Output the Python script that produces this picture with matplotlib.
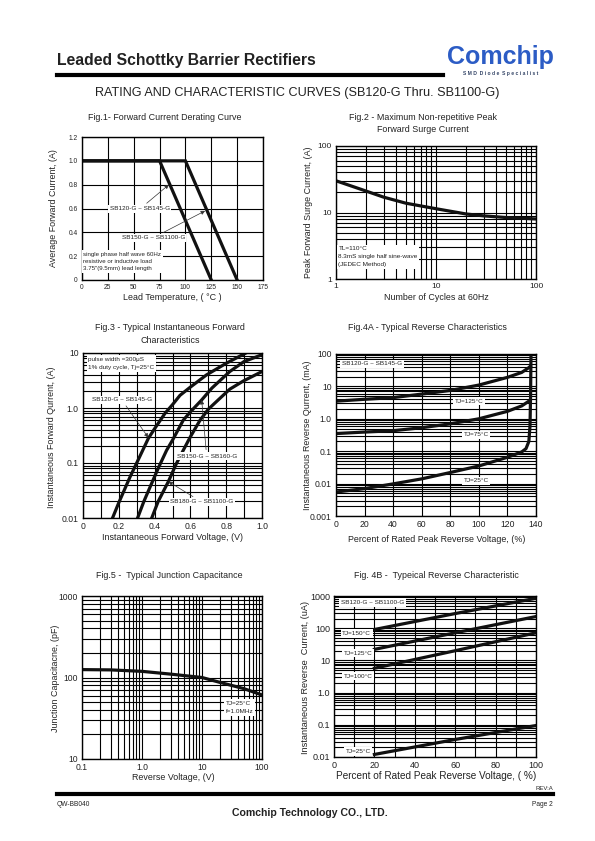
import numpy as np
import matplotlib
matplotlib.use('Agg')
import matplotlib.pyplot as plt
from matplotlib.ticker import NullFormatter, FixedLocator

plt.rcParams['font.family'] = ['Liberation Sans', 'DejaVu Sans']

W, H = 595, 841
TXT = '#222222'

# ---- data ----
# Fig.1 derating
temp_a = [0, 75, 125]
cur_a = [1.0, 1.0, 0.0]
temp_b = [0, 100, 150]
cur_b = [1.0, 1.0, 0.0]

# Fig.2 surge current
cycles = [1, 2, 3, 5, 10, 20, 30, 50, 100]
surge = [30, 21, 17, 13.8, 11.4, 9.5, 8.9, 8.4, 8.0]

# Fig.3 forward characteristics
vf_1 = [0.165, 0.2, 0.263, 0.3, 0.365, 0.4, 0.458, 0.5, 0.542, 0.6, 0.69, 0.8, 0.91]
if_1 = [0.01, 0.019, 0.056, 0.1, 0.28, 0.42, 0.8, 1.15, 1.7, 2.4, 4.0, 6.5, 10]
vf_2 = [0.305, 0.34, 0.384, 0.42, 0.467, 0.5, 0.56, 0.6, 0.663, 0.72, 0.82, 0.9, 1.0]
if_2 = [0.01, 0.02, 0.043, 0.08, 0.17, 0.26, 0.6, 0.85, 1.4, 2.3, 4.6, 7.0, 9.3]
vf_3 = [0.384, 0.42, 0.477, 0.52, 0.56, 0.6, 0.654, 0.7, 0.765, 0.82, 0.896, 1.0]
if_3 = [0.01, 0.02, 0.046, 0.095, 0.17, 0.3, 0.6, 0.95, 1.5, 2.2, 3.1, 4.6]

# Fig.4A reverse characteristics (mA)
pct_a = [0, 20, 40, 60, 80, 100, 120, 130, 135, 136]
ir_125 = [3.5, 4.0, 4.5, 5.8, 7.5, 11, 19, 27, 38, 42]
ir_75 = [0.35, 0.39, 0.43, 0.53, 0.7, 1.0, 1.7, 2.5, 3.5, 3.9]
pct_25 = [0, 20, 40, 60, 80, 100, 120, 130, 133, 135, 135.8, 136.2, 136.5]
ir_25 = [0.0055, 0.007, 0.0098, 0.014, 0.022, 0.035, 0.065, 0.095, 0.12, 0.2, 0.6, 5, 100]

# Fig.5 junction capacitance
vr = [0.1, 0.3, 1, 3, 10, 20, 50, 100]
cj = [125, 124, 119, 110, 100, 87, 73, 61]

# Fig.4B reverse characteristic (uA)
pct_b = [20, 60, 100]
irb_150 = [91, 285, 850]
irb_125 = [22, 72, 230]
irb_100 = [5.7, 20, 72]
irb_25 = [0.012, 0.035, 0.095]

fig = plt.figure(figsize=(W / 100, H / 100), dpi=100)


def px_axes(left, top, right, bottom):
    return fig.add_axes([left / W, 1 - bottom / H, (right - left) / W, (bottom - top) / H])


def px_text(x, y, s, **kw):
    kw.setdefault('color', TXT)
    fig.text(x / W, 1 - y / H, s, **kw)


def style(ax, tick_fs=5.5):
    ax.grid(True, which='both', color='black', lw=0.8)
    ax.set_axisbelow(True)
    ax.tick_params(which='both', length=0, labelsize=tick_fs, colors=TXT, pad=3)
    for sp in ax.spines.values():
        sp.set_color('black')
        sp.set_linewidth(1.0)


def box(ax, x, y, s, fs=4.6, ha='left', va='top', ls=1.6):
    ax.text(x, y, s, transform=ax.transAxes, fontsize=fs, ha=ha, va=va, color=TXT,
            linespacing=ls, zorder=5,
            bbox=dict(facecolor='white', edgecolor='none', pad=1.2))


CLW = 2.3

# ---- header ----
px_text(57, 60, 'Leaded Schottky Barrier Rectifiers', fontsize=11.3, fontweight='bold',
        va='center')
fig.add_artist(plt.Line2D([57 / W, 443 / W], [1 - 75 / H, 1 - 75 / H], color='black', lw=3))
px_text(500, 57, 'Comchip', fontsize=18, fontweight='bold', color='#2c5cc5',
        ha='center', va='center')
px_text(501, 73, 'S M D  D i o d e  S p e c i a l i s t', fontsize=3.6, fontweight='bold',
        color='#334466', ha='center', va='center')
px_text(297, 93, 'RATING AND CHARACTERISTIC CURVES (SB120-G Thru. SB1100-G)', fontsize=9.1,
        ha='center', va='center')

# ---- Fig.1 ----
ax1 = px_axes(82, 137, 263, 280)
ax1.plot(temp_a, cur_a, color='#111111', lw=CLW, solid_joinstyle='miter')
ax1.plot(temp_b, cur_b, color='#111111', lw=CLW, solid_joinstyle='miter')
ax1.set_xlim(0, 175)
ax1.set_ylim(0, 1.2)
ax1.set_xticks(np.arange(0, 176, 25))
ax1.set_yticks([0, 0.2, 0.4, 0.6, 0.8, 1.0, 1.2], ['0', '0.2', '0.4', '0.6', '0.8', '1.0', '1.2'])
style(ax1, 4.8)
arrow_kw = dict(arrowstyle='-|>', color='#333333', lw=0.5, mutation_scale=6, shrinkA=2, shrinkB=0)
ax1.annotate('SB120-G ~ SB145-G', xy=(84, 0.8), xytext=(0.32, 0.497), textcoords='axes fraction',
             fontsize=4.6, ha='center', va='center', color=TXT,
             bbox=dict(facecolor='white', edgecolor='none', pad=1), arrowprops=arrow_kw)
ax1.annotate('SB150-G ~ SB1100-G', xy=(119, 0.58), xytext=(0.394, 0.296), textcoords='axes fraction',
             fontsize=4.6, ha='center', va='center', color=TXT,
             bbox=dict(facecolor='white', edgecolor='none', pad=1), arrowprops=arrow_kw)
box(ax1, 0.008, 0.195, 'single phase half wave 60Hz\nresistive or inductive load\n3.75"(9.5mm) lead length',
    fs=4.4, ls=1.5)
px_text(165, 118, 'Fig.1- Forward Current Derating Curve', fontsize=6.4, ha='center', va='center')
px_text(172, 298, 'Lead Temperature, ( °C )', fontsize=6.4, ha='center', va='center')
px_text(53, 208, 'Average Forward Current, (A)', fontsize=6.4, ha='center', va='center', rotation=90)

# ---- Fig.2 ----
ax2 = px_axes(336, 146, 536, 279)
ax2.plot(cycles, surge, color='#111111', lw=CLW)
ax2.set_xscale('log')
ax2.set_yscale('log')
ax2.set_xlim(1, 100)
ax2.set_ylim(1, 100)
ax2.set_xticks([1, 10, 100], ['1', '10', '100'])
ax2.set_yticks([1, 10, 100], ['1', '10', '100'])
ax2.xaxis.set_minor_formatter(NullFormatter())
ax2.yaxis.set_minor_formatter(NullFormatter())
style(ax2, 6)
box(ax2, 0.012, 0.245, 'TL=110°C\n8.3mS single half sine-wave\n(JEDEC Method)', fs=4.6, ls=1.7)
px_text(423, 118, 'Fig.2 - Maximum Non-repetitive Peak', fontsize=6.4, ha='center', va='center')
px_text(423, 130, 'Forward Surge Current', fontsize=6.4, ha='center', va='center')
px_text(436, 297, 'Number of Cycles at 60Hz', fontsize=6.4, ha='center', va='center')
px_text(308, 212, 'Peak Forward Surge Current, (A)', fontsize=6.4, ha='center', va='center',
        rotation=90)

# ---- Fig.3 ----
ax3 = px_axes(83, 353, 262, 518)
for v, i in ((vf_1, if_1), (vf_2, if_2), (vf_3, if_3)):
    ax3.plot(v, i, color='#111111', lw=CLW)
ax3.set_yscale('log')
ax3.set_xlim(0, 1.0)
ax3.set_ylim(0.01, 10)
ax3.set_xticks([0, 0.2, 0.4, 0.6, 0.8, 1.0], ['0', '0.2', '0.4', '0.6', '0.8', '1.0'])
ax3.xaxis.set_minor_locator(FixedLocator([0.1, 0.3, 0.5, 0.7, 0.9]))
ax3.set_yticks([0.01, 0.1, 1, 10], ['0.01', '0.1', '1.0', '10'])
ax3.yaxis.set_minor_formatter(NullFormatter())
style(ax3, 6.2)
box(ax3, 0.03, 0.975, 'pulse width =300μS\n1% duty cycle, Tj=25°C', fs=4.6, ls=1.7)
ax3.annotate('SB120-G ~ SB145-G', xy=(0.365, 0.29), xytext=(0.216, 0.717), textcoords='axes fraction',
             fontsize=4.6, ha='center', va='center', color=TXT,
             bbox=dict(facecolor='white', edgecolor='none', pad=1), arrowprops=arrow_kw)
ax3.annotate('SB150-G ~ SB160-G', xy=(0.663, 1.4), xytext=(0.691, 0.374), textcoords='axes fraction',
             fontsize=4.6, ha='center', va='center', color=TXT,
             bbox=dict(facecolor='white', edgecolor='none', pad=1), arrowprops=arrow_kw)
ax3.annotate('SB180-G ~ SB1100-G', xy=(0.477, 0.046), xytext=(0.663, 0.097), textcoords='axes fraction',
             fontsize=4.6, ha='center', va='center', color=TXT,
             bbox=dict(facecolor='white', edgecolor='none', pad=1), arrowprops=arrow_kw)
px_text(170, 327, 'Fig.3 - Typical Instantaneous Forward', fontsize=6.4, ha='center', va='center')
px_text(170, 340, 'Characteristics', fontsize=6.4, ha='center', va='center')
px_text(172, 538, 'Instantaneous Forward Voltage, (V)', fontsize=6.4, ha='center', va='center')
px_text(52, 437, 'Instantaneous Forward Qurrent, (A)', fontsize=6.4, ha='center', va='center',
        rotation=90)

# ---- Fig.4A ----
ax4 = px_axes(336, 354, 536, 516)
ax4.plot(pct_a, ir_125, color='#111111', lw=CLW)
ax4.plot(pct_a, ir_75, color='#111111', lw=CLW)
ax4.plot(pct_25, ir_25, color='#111111', lw=CLW)
ax4.set_yscale('log')
ax4.set_xlim(0, 140)
ax4.set_ylim(0.001, 100)
ax4.set_xticks(np.arange(0, 141, 20))
ax4.set_yticks([0.001, 0.01, 0.1, 1, 10, 100], ['0.001', '0.01', '0.1', '1.0', '10', '100'])
ax4.yaxis.set_minor_formatter(NullFormatter())
style(ax4, 6.2)
box(ax4, 0.18, 0.94, 'SB120-G ~ SB145-G', fs=4.6, ha='center', va='center')
box(ax4, 0.667, 0.708, 'TJ=125°C', fs=4.6, ha='center', va='center')
box(ax4, 0.70, 0.502, 'TJ=75°C', fs=4.6, ha='center', va='center')
box(ax4, 0.70, 0.218, 'TJ=25°C', fs=4.6, ha='center', va='center')
px_text(427, 328, 'Fig.4A - Typical Reverse Characteristics', fontsize=6.4, ha='center', va='center')
px_text(437, 539, 'Percent of Rated Peak Reverse Voltage, (%)', fontsize=6.4, ha='center', va='center')
px_text(307, 435, 'Instantaneous Reverse Qurrent, (mA)', fontsize=6.4, ha='center', va='center',
        rotation=90)

# ---- Fig.5 ----
ax5 = px_axes(82, 596, 262, 759)
ax5.plot(vr, cj, color='#111111', lw=CLW)
ax5.set_xscale('log')
ax5.set_yscale('log')
ax5.set_xlim(0.1, 100)
ax5.set_ylim(10, 1000)
ax5.set_xticks([0.1, 1, 10, 100], ['0.1', '1.0', '10', '100'])
ax5.set_yticks([10, 100, 1000], ['10', '100', '1000'])
ax5.xaxis.set_minor_formatter(NullFormatter())
ax5.yaxis.set_minor_formatter(NullFormatter())
style(ax5, 6.2)
box(ax5, 0.80, 0.355, 'TJ=25°C\nf=1.0MHz', fs=4.6, ls=1.8)
px_text(169, 575, 'Fig.5 -  Typical Junction Capacitance', fontsize=6.4, ha='center', va='center')
px_text(173, 777, 'Reverse Voltage, (V)', fontsize=6.4, ha='center', va='center')
px_text(55, 678, 'Junction Capacitacne, (pF)', fontsize=6.4, ha='center', va='center', rotation=90)

# ---- Fig.4B ----
ax6 = px_axes(334, 596, 536, 757)
for s in (irb_150, irb_125, irb_100, irb_25):
    ax6.plot(pct_b, s, color='#111111', lw=CLW)
ax6.set_yscale('log')
ax6.set_xlim(0, 100)
ax6.set_ylim(0.01, 1000)
ax6.set_xticks(np.arange(0, 101, 20))
ax6.xaxis.set_minor_locator(FixedLocator([10, 30, 50, 70, 90]))
ax6.set_yticks([0.01, 0.1, 1, 10, 100, 1000], ['0.01', '0.1', '1.0', '10', '100', '1000'])
ax6.yaxis.set_minor_formatter(NullFormatter())
style(ax6, 6.5)
box(ax6, 0.19, 0.96, 'SB120-G ~ SB1100-G', fs=4.6, ha='center', va='center')
box(ax6, 0.112, 0.768, 'TJ=150°C', fs=4.6, ha='center', va='center')
box(ax6, 0.119, 0.644, 'TJ=125°C', fs=4.6, ha='center', va='center')
box(ax6, 0.119, 0.503, 'TJ=100°C', fs=4.6, ha='center', va='center')
box(ax6, 0.119, 0.035, 'TJ=25°C', fs=4.6, ha='center', va='center')
px_text(436, 575, 'Fig. 4B -  Typeical Reverse Characteristic', fontsize=6.4, ha='center', va='center')
px_text(436, 776, 'Percent of Rated Peak Reverse Voltage, ( %)', fontsize=7.2, ha='center', va='center')
px_text(305, 677, 'Instantaneous Reverse  Current, (uA)', fontsize=6.6, ha='center', va='center',
        rotation=90)

# ---- footer ----
px_text(553, 788, 'REV:A', fontsize=4.3, ha='right', va='center')
fig.add_artist(plt.Line2D([57 / W, 553 / W], [1 - 794 / H, 1 - 794 / H], color='black', lw=3))
px_text(57, 804, 'QW-BB040', fontsize=4.8, ha='left', va='center')
px_text(553, 804, 'Page 2', fontsize=4.8, ha='right', va='center')
px_text(310, 813, 'Comchip Technology CO., LTD.', fontsize=7.6, fontweight='bold', ha='center',
        va='center')

fig.savefig('out.png', dpi=100)
